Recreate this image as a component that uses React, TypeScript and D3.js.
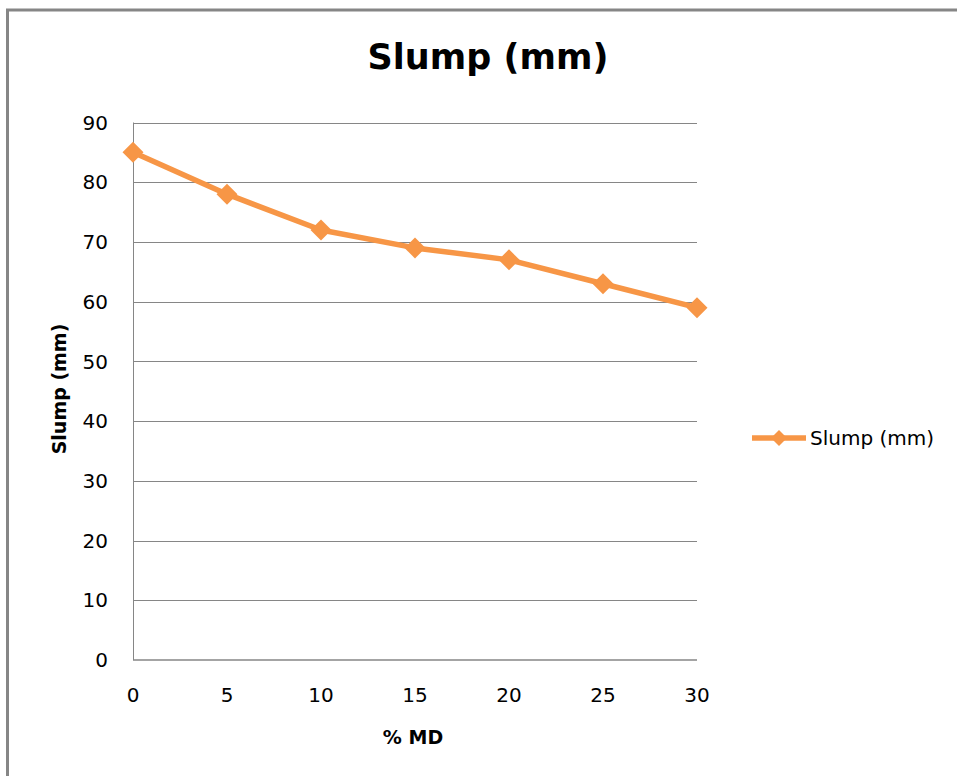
import { useEffect, useRef } from "react";
import * as d3 from "d3";

const categories = [0, 5, 10, 15, 20, 25, 30];
const slump = [85, 78, 72, 69, 67, 63, 59];
const yTicks = [0, 10, 20, 30, 40, 50, 60, 70, 80, 90];

const ORANGE = "#F79646";
const GRID = "#868686";
const FONT = "'DejaVu Sans', sans-serif";

const W = 957;
const H = 776;

function diamond(r: number) {
  return `M0,${-r}L${r},0L0,${r}L${-r},0Z`;
}

function buildChart(svgEl: SVGSVGElement) {
  const svg = d3.select(svgEl);
  svg.selectAll("*").remove();

  const margin = { top: 122.5, left: 133, right: W - 697, bottom: H - 660 };

  const x = d3.scaleLinear().domain([0, 30]).range([margin.left, W - margin.right]);
  const y = d3.scaleLinear().domain([0, 90]).range([H - margin.bottom, margin.top]);

  // outer chart border (right/bottom edges fall outside the picture)
  svg.append("rect")
    .attr("x", 7.5).attr("y", 10)
    .attr("width", W + 20).attr("height", H + 20)
    .attr("fill", "#fff")
    .attr("stroke", GRID).attr("stroke-width", 3);

  // horizontal gridlines
  svg.append("g")
    .selectAll("line")
    .data(yTicks.filter(d => d > 0))
    .join("line")
    .attr("x1", x(0)).attr("x2", x(30))
    .attr("y1", d => Math.round(y(d)) + 0.5).attr("y2", d => Math.round(y(d)) + 0.5)
    .attr("stroke", GRID).attr("stroke-width", 1);

  // axis lines
  svg.append("line")
    .attr("x1", x(0) + 0.5).attr("x2", x(0) + 0.5)
    .attr("y1", y(90)).attr("y2", y(0))
    .attr("stroke", GRID).attr("stroke-width", 1);
  svg.append("line")
    .attr("x1", x(0)).attr("x2", x(30))
    .attr("y1", y(0)).attr("y2", y(0))
    .attr("stroke", GRID).attr("stroke-width", 1.5);

  // y tick labels
  svg.append("g")
    .selectAll("text")
    .data(yTicks)
    .join("text")
    .attr("x", 108)
    .attr("y", d => y(d))
    .attr("dy", "0.36em")
    .attr("text-anchor", "end")
    .attr("font-family", FONT)
    .attr("font-size", 20)
    .attr("fill", "#000")
    .text(d => d);

  // x tick labels
  svg.append("g")
    .selectAll("text")
    .data(categories)
    .join("text")
    .attr("x", d => x(d))
    .attr("y", 702)
    .attr("text-anchor", "middle")
    .attr("font-family", FONT)
    .attr("font-size", 20)
    .attr("fill", "#000")
    .text(d => d);

  // series line + markers
  const pts = categories.map((c, i) => ({ c, v: slump[i] }));
  const line = d3.line<{ c: number; v: number }>()
    .x(d => x(d.c))
    .y(d => y(d.v));

  svg.append("path")
    .datum(pts)
    .attr("fill", "none")
    .attr("stroke", ORANGE)
    .attr("stroke-width", 5.5)
    .attr("stroke-linejoin", "round")
    .attr("d", line);

  svg.append("g")
    .selectAll("path")
    .data(pts)
    .join("path")
    .attr("transform", d => `translate(${x(d.c)},${y(d.v)})`)
    .attr("d", diamond(10.5))
    .attr("fill", ORANGE);

  // title
  svg.append("text")
    .attr("x", 488).attr("y", 69)
    .attr("text-anchor", "middle")
    .attr("font-family", FONT)
    .attr("font-weight", "bold")
    .attr("font-size", 35)
    .attr("fill", "#000")
    .text("Slump (mm)");

  // axis titles
  svg.append("text")
    .attr("x", 413).attr("y", 744)
    .attr("text-anchor", "middle")
    .attr("font-family", FONT)
    .attr("font-weight", "bold")
    .attr("font-size", 19)
    .attr("fill", "#000")
    .text("% MD");

  svg.append("text")
    .attr("transform", "translate(66,389) rotate(-90)")
    .attr("text-anchor", "middle")
    .attr("font-family", FONT)
    .attr("font-weight", "bold")
    .attr("font-size", 19)
    .attr("fill", "#000")
    .text("Slump (mm)");

  // legend
  const lg = svg.append("g").attr("transform", "translate(752,438)");
  lg.append("line")
    .attr("x1", 0).attr("x2", 54)
    .attr("stroke", ORANGE).attr("stroke-width", 5.5);
  lg.append("path")
    .attr("transform", "translate(27,0)")
    .attr("d", diamond(8))
    .attr("fill", ORANGE);
  lg.append("text")
    .attr("x", 58).attr("y", 0)
    .attr("dy", "0.36em")
    .attr("font-family", FONT)
    .attr("font-size", 20)
    .attr("fill", "#000")
    .text("Slump (mm)");
}

export default function App() {
  const svgRef = useRef<SVGSVGElement>(null);

  useEffect(() => {
    if (svgRef.current) buildChart(svgRef.current);
  }, []);

  return (
    <svg
      ref={svgRef}
      width={W}
      height={H}
      style={{ position: "absolute", left: 0, top: 0, display: "block", background: "#fff" }}
    />
  );
}
